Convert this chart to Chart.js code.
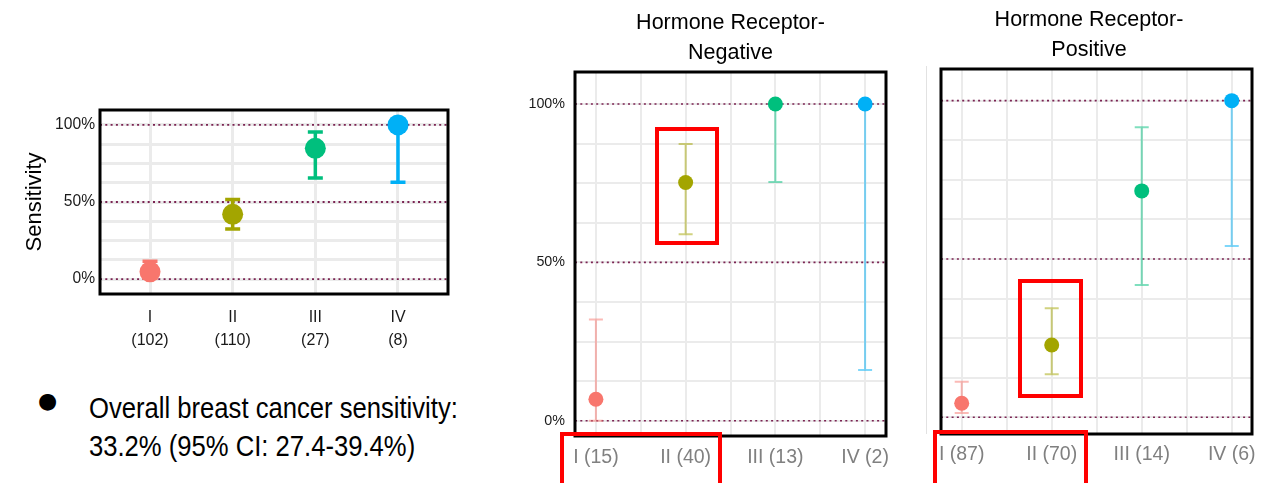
<!DOCTYPE html>
<html>
<head>
<meta charset="utf-8">
<script src="https://cdn.jsdelivr.net/npm/chart.js@4"></script>
<style>
  html, body { margin: 0; padding: 0; background: #fff; }
  body { width: 1281px; height: 483px; position: relative; overflow: hidden; font-family: 'Liberation Sans', Arial, sans-serif; }
  canvas { position: absolute; }
  .note { position: absolute; left: 89px; top: 389px; font-size: 29.8px; line-height: 38px; color: #000; white-space: nowrap; transform: scaleX(0.86); transform-origin: 0 0; }
  .bullet { position: absolute; left: 38px; top: 388px; font-family: 'DejaVu Sans', sans-serif; font-size: 22px; line-height: 26px; color: #000; }
  .redbox { position: absolute; border: 4px solid #ff0000; box-sizing: border-box; z-index: 2; }
  .edge { position: absolute; left: 926px; top: 66px; width: 1px; height: 368px; background: #e2e2e2; }
</style>
</head>
<body>
<canvas id="overallChart" width="470" height="280" style="left:0;top:80px"></canvas>
<canvas id="negChart" width="420" height="483" style="left:510px;top:0"></canvas>
<div class="edge"></div>
<canvas id="posChart" width="355" height="483" style="left:926px;top:0"></canvas>

<div class="bullet">●</div>
<div class="note">Overall breast cancer sensitivity:<br>33.2% (95% CI: 27.4-39.4%)</div>

<div class="redbox" style="left:655px;top:127px;width:64px;height:118px"></div>
<div class="redbox" style="left:560px;top:432px;width:162px;height:60px"></div>
<div class="redbox" style="left:1018px;top:279px;width:65px;height:119px"></div>
<div class="redbox" style="left:933px;top:430px;width:155px;height:60px"></div>

<script>
const stageLabels = ['I', 'II', 'III', 'IV'];
const stageColors = ['#F8766D', '#A3A500', '#00BF7D', '#00B0F6'];

// all stages
const overallN = ['(102)', '(110)', '(27)', '(8)'];
const overallSens = [4.7, 42, 84.8, 100];
const overallLo = [0.5, 32.5, 65.6, 62.8];
const overallHi = [11.5, 51.7, 95.4, 100];

// hormone receptor negative
const negN = ['(15)', '(40)', '(13)', '(2)'];
const negSens = [6.8, 75.2, 100, 100];
const negLo = [0, 58.9, 75.4, 16];
const negHi = [32, 87.4, 100, 100];

// hormone receptor positive
const posN = ['(87)', '(70)', '(14)', '(6)'];
const posSens = [4.4, 22.8, 71.5, 100];
const posLo = [1.3, 13.6, 41.8, 54.1];
const posHi = [11.2, 34.4, 91.6, 100];

const refLines = [0, 50, 100];
const yGrid = [0, 12.5, 25, 37.5, 50, 62.5, 75, 87.5, 100];

Chart.defaults.font.family = "'Liberation Sans', Arial, sans-serif";
Chart.defaults.animation = false;

const ciBars = {
    id: 'ciBars',
    beforeDatasetsDraw(chart, args, opts) {
        const { ctx, chartArea: a, scales: { x, y } } = chart;
        ctx.save();
        ctx.beginPath();
        ctx.rect(a.left, a.top, a.width, a.height);
        ctx.clip();

        // dotted reference lines at 0 / 50 / 100 %
        ctx.strokeStyle = '#7b2352';
        ctx.lineWidth = opts.refWidth;
        ctx.setLineDash([2, 3.3]);
        refLines.forEach(v => {
            const py = y.getPixelForValue(v);
            ctx.beginPath();
            ctx.moveTo(a.left, py);
            ctx.lineTo(a.right, py);
            ctx.stroke();
        });
        ctx.setLineDash([]);

        // confidence intervals
        ctx.globalAlpha = opts.alpha;
        ctx.lineWidth = opts.width;
        opts.lo.forEach((lo, i) => {
            const px = x.getPixelForValue(i);
            const yLo = y.getPixelForValue(lo);
            const yHi = y.getPixelForValue(opts.hi[i]);
            ctx.strokeStyle = stageColors[i];
            ctx.beginPath();
            ctx.moveTo(px, yLo);
            ctx.lineTo(px, yHi);
            ctx.moveTo(px - opts.cap / 2, yLo);
            ctx.lineTo(px + opts.cap / 2, yLo);
            ctx.moveTo(px - opts.cap / 2, yHi);
            ctx.lineTo(px + opts.cap / 2, yHi);
            ctx.stroke();
        });
        ctx.restore();
    },
    afterDraw(chart) {
        const { ctx, chartArea: a } = chart;
        ctx.save();
        ctx.strokeStyle = '#000';
        ctx.lineWidth = 3;
        ctx.strokeRect(a.left, a.top, a.width, a.height);
        ctx.restore();
    }
};

function panel(id, o) {
    return new Chart(document.getElementById(id), {
        type: 'scatter',
        data: {
            datasets: [{
                data: o.sens.map((v, i) => ({ x: i, y: v })),
                pointBackgroundColor: stageColors,
                pointBorderWidth: 0,
                pointRadius: o.radius,
                pointHoverRadius: o.radius
            }]
        },
        options: {
            responsive: false,
            events: [],
            layout: { padding: o.padding },
            plugins: {
                legend: { display: false },
                tooltip: { enabled: false },
                title: o.title || { display: false },
                ciBars: { lo: o.lo, hi: o.hi, width: o.barWidth, cap: o.cap, alpha: o.alpha, refWidth: o.refWidth }
            },
            scales: {
                x: {
                    type: 'linear',
                    min: o.xMin,
                    max: o.xMax,
                    afterBuildTicks: ax => { ax.ticks = o.xGrid.map(v => ({ value: v })); },
                    afterFit: ax => { ax.height = o.xAxisH; },
                    grid: { color: '#ebebeb', lineWidth: o.gridWidth, drawTicks: false },
                    border: { display: false },
                    ticks: {
                        autoSkip: false,
                        maxRotation: 0,
                        padding: o.xTickPad,
                        color: o.xTickColor,
                        font: o.xTickFont,
                        callback: v => Number.isInteger(v) ? o.xLabel(v) : ''
                    }
                },
                y: {
                    min: o.yMin,
                    max: o.yMax,
                    afterBuildTicks: ax => { ax.ticks = yGrid.map(v => ({ value: v })); },
                    afterFit: ax => { ax.width = o.yAxisW; },
                    grid: { color: '#ebebeb', lineWidth: o.gridWidth, drawTicks: false },
                    border: { display: false },
                    title: o.yTitle || { display: false },
                    ticks: {
                        display: o.yTicks,
                        autoSkip: false,
                        padding: o.yTickPad,
                        color: '#1a1a1a',
                        font: o.yTickFont,
                        callback: v => refLines.includes(v) ? v + '%' : ''
                    }
                }
            }
        },
        plugins: [ciBars]
    });
}

panel('overallChart', {
    sens: overallSens, lo: overallLo, hi: overallHi,
    radius: 10.5, barWidth: 3.5, cap: 15, alpha: 1, refWidth: 1.8, gridWidth: 3,
    padding: { top: 30, right: 22, left: 0, bottom: 0 },
    xMin: -0.605, xMax: 3.605, xGrid: [0, 1, 2, 3], xAxisH: 66, xTickPad: 12,
    xTickColor: '#1a1a1a', xTickFont: { size: 16, lineHeight: 1.44 },
    xLabel: v => [stageLabels[v], overallN[v]],
    yMin: -9.7, yMax: 109.7, yAxisW: 100, yTicks: true, yTickPad: 5,
    yTickFont: { size: 15.6 },
    yTitle: { display: true, text: 'Sensitivity', color: '#000', font: { size: 22 }, padding: { top: 22, bottom: 0 } }
});

panel('negChart', {
    sens: negSens, lo: negLo, hi: negHi,
    radius: 7.5, barWidth: 2, cap: 14, alpha: 0.5, refWidth: 1.6, gridWidth: 2,
    padding: { top: 0, right: 44, left: 0, bottom: 0 },
    xMin: -0.233, xMax: 3.233, xGrid: [0, 0.5, 1, 1.5, 2, 2.5, 3], xAxisH: 47, xTickPad: 10,
    xTickColor: '#808080', xTickFont: { size: 19.5 },
    xLabel: v => stageLabels[v] + ' ' + negN[v],
    yMin: -4.8, yMax: 110.1, yAxisW: 65, yTicks: true, yTickPad: 10,
    yTickFont: { size: 14.3 },
    title: {
        display: true, text: ['Hormone Receptor-', 'Negative'], fullSize: false, color: '#000',
        font: { size: 21.5, weight: 'normal', lineHeight: 30 / 21.5 }, padding: { top: 8, bottom: 4 }
    }
});

panel('posChart', {
    sens: posSens, lo: posLo, hi: posHi,
    radius: 7.5, barWidth: 2, cap: 14, alpha: 0.5, refWidth: 1.6, gridWidth: 2,
    padding: { top: 0, right: 29, left: 0, bottom: 0 },
    xMin: -0.23, xMax: 3.225, xGrid: [0, 0.5, 1, 1.5, 2, 2.5, 3], xAxisH: 49, xTickPad: 9,
    xTickColor: '#808080', xTickFont: { size: 19.5 },
    xLabel: v => stageLabels[v] + ' ' + posN[v],
    yMin: -5.3, yMax: 110, yAxisW: 15, yTicks: false, yTickPad: 0,
    yTickFont: { size: 14.3 },
    title: {
        display: true, text: ['Hormone Receptor-', 'Positive'], color: '#000',
        font: { size: 21.5, weight: 'normal', lineHeight: 30 / 21.5 }, padding: { top: 5, bottom: 4 }
    }
});
</script>
</body>
</html>
